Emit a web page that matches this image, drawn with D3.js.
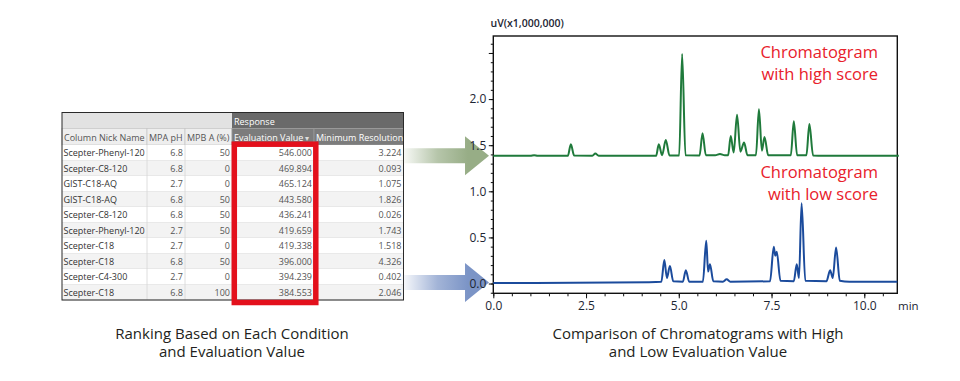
<!DOCTYPE html>
<html><head><meta charset="utf-8">
<script src="https://cdn.jsdelivr.net/npm/d3@7"></script>
<style>body{margin:0;background:#fff;} svg{display:block;font-family:"Open Sans",sans-serif;}</style>
</head><body><svg id="c" width="960" height="381"></svg>
<script>
// ---------------- DATA ----------------
const headerNames = ["Column Nick Name", "MPA pH", "MPB A (%)", "Evaluation Value", "Minimum Resolution"];
const groupHeader = "Response";
const columnNickNames = ["Scepter-Phenyl-120","Scepter-C8-120","GIST-C18-AQ","GIST-C18-AQ","Scepter-C8-120","Scepter-Phenyl-120","Scepter-C18","Scepter-C18","Scepter-C4-300","Scepter-C18"];
const mpaPH = ["6.8","6.8","2.7","6.8","6.8","2.7","2.7","6.8","2.7","6.8"];
const mpbA = ["50","0","0","50","50","50","0","50","0","100"];
const evaluationValues = ["546.000","469.894","465.124","443.580","436.241","419.659","419.338","396.000","394.239","384.553"];
const minResolutions = ["3.224","0.093","1.075","1.826","0.026","1.743","1.518","4.326","0.402","2.046"];

// chromatograms: [retention time (min), signal (uV x1,000,000)]
const highScoreTrace = [
  [0,1.385],[1.0,1.385],[1.1,1.392],[1.2,1.385],
  [2.01,1.385],[2.09,1.51],[2.18,1.387],
  [2.67,1.386],[2.75,1.41],[2.84,1.386],
  [4.39,1.386],[4.46,1.51],[4.55,1.392],[4.65,1.556],[4.75,1.388],
  [5.01,1.388],[5.09,2.49],[5.18,1.39],
  [5.56,1.389],[5.64,1.63],[5.73,1.39],
  [5.98,1.39],[6.11,1.405],[6.24,1.39],
  [6.33,1.392],[6.40,1.60],[6.48,1.42],[6.57,1.83],[6.66,1.43],[6.76,1.53],[6.85,1.392],
  [7.08,1.392],[7.16,1.89],[7.24,1.44],[7.31,1.59],[7.41,1.39],
  [8.02,1.39],[8.10,1.76],[8.19,1.39],
  [8.44,1.39],[8.52,1.73],[8.62,1.388],
  [8.9,1.386],[10.93,1.386]
];
const lowScoreTrace = [
  [0,0.005],[4.2,0.015],[4.53,0.02],[4.61,0.255],[4.68,0.06],[4.76,0.19],[4.85,0.025],
  [5.11,0.02],[5.19,0.145],[5.28,0.02],
  [5.65,0.02],[5.74,0.465],[5.79,0.13],[5.84,0.21],[5.93,0.025],
  [6.19,0.02],[6.29,0.045],[6.39,0.02],
  [7.46,0.025],[7.56,0.40],[7.60,0.30],[7.64,0.345],[7.74,0.03],
  [8.10,0.025],[8.18,0.21],[8.24,0.06],[8.31,0.87],[8.41,0.03],
  [8.98,0.025],[9.08,0.145],[9.15,0.06],[9.24,0.39],[9.34,0.03],
  [9.6,0.02],[10.89,0.02]
];
const xTickValues = [0, 2.5, 5, 7.5, 10];
const xTickLabels = ["0.0","2.5","5.0","7.5","10.0"];
const yTickValues = [0, 0.5, 1.0, 1.5, 2.0];
const yTickLabels = ["0.0","0.5","1.0","1.5","2.0"];
const yAxisTitle = "uV(x1,000,000)";
const xAxisUnit = "min";
const highLabel = ["Chromatogram", "with high score"];
const lowLabel = ["Chromatogram", "with low score"];
const leftCaption = ["Ranking Based on Each Condition", "and Evaluation Value"];
const rightCaption = ["Comparison of Chromatograms with High", "and Low Evaluation Value"];

// ---------------- DRAW ----------------
const svg = d3.select("#c");
const defs = svg.append("defs");

// ===== TABLE =====
const colEdges = [62, 147, 185, 232, 314, 403.5];
const headTop = 112.5, headMid = 128.5, headBot = 145, tblBot = 300;
const rowY = d3.scaleBand().domain(d3.range(columnNickNames.length)).range([headBot, tblBot]);
const tbl = svg.append("g").attr("font-size", 9);

// header row 1
tbl.append("rect").attr("x", colEdges[0]).attr("y", headTop).attr("width", colEdges[3]-colEdges[0]).attr("height", headMid-headTop).attr("fill", "#e2e2e2");
tbl.append("rect").attr("x", colEdges[3]).attr("y", headTop).attr("width", colEdges[5]-colEdges[3]).attr("height", headMid-headTop).attr("fill", "#6a6a6a");
tbl.append("text").attr("x", colEdges[3]+2).attr("y", headMid-4).attr("fill", "#fff").text(groupHeader);
// header row 2
headerNames.forEach((h, i) => {
  const dark = i >= 3;
  tbl.append("rect").attr("x", colEdges[i]).attr("y", headMid).attr("width", colEdges[i+1]-colEdges[i]).attr("height", headBot-headMid)
    .attr("fill", dark ? "#7c7c7c" : "#eeeeee").attr("stroke", dark ? "#9a9a9a" : "#c8c8c8").attr("stroke-width", 0.8);
  tbl.append("text").attr("x", colEdges[i]+2).attr("y", headBot-4.5).attr("fill", dark ? "#fff" : "#555").text(h);
});
tbl.append("text").attr("x", colEdges[4]-9).attr("y", headBot-4.5).attr("fill", "#ddd").attr("font-size", 8).text("▾");

// data rows
const rows = tbl.selectAll("g.row").data(columnNickNames.map((n, i) => ({
  cells: [n, mpaPH[i], mpbA[i], evaluationValues[i], minResolutions[i]], i
}))).join("g").attr("class", "row");
rows.append("rect").attr("x", colEdges[0]).attr("y", d => rowY(d.i)).attr("width", colEdges[5]-colEdges[0]).attr("height", rowY.bandwidth())
  .attr("fill", d => d.i % 2 ? "#f3f3f3" : "#ffffff");
rows.append("line").attr("x1", colEdges[0]).attr("x2", colEdges[5]).attr("y1", d => rowY(d.i)+rowY.bandwidth()).attr("y2", d => rowY(d.i)+rowY.bandwidth())
  .attr("stroke", "#d6d6d6").attr("stroke-width", 0.8);
rows.each(function(d) {
  const g = d3.select(this);
  d.cells.forEach((c, j) => {
    const left = j === 0;
    g.append("text")
      .attr("x", left ? colEdges[j]+1.5 : colEdges[j+1]-2)
      .attr("y", rowY(d.i) + rowY.bandwidth()/2 + 3.3)
      .attr("text-anchor", left ? "start" : "end")
      .attr("fill", left ? "#333" : "#555")
      .text(c);
  });
});
// column separators in body
colEdges.slice(1, 5).forEach(x => {
  tbl.append("line").attr("x1", x).attr("x2", x).attr("y1", headBot).attr("y2", tblBot).attr("stroke", "#d6d6d6").attr("stroke-width", 0.8);
});
// outer border
tbl.append("rect").attr("x", colEdges[0]).attr("y", headTop).attr("width", colEdges[5]-colEdges[0]).attr("height", tblBot-headTop)
  .attr("fill", "none").attr("stroke", "#2a2a2a").attr("stroke-width", 1);

// red highlight around Evaluation Value column
tbl.append("rect").attr("x", 234.3).attr("y", 144.2).attr("width", 81.5).attr("height", 158.3)
  .attr("fill", "none").attr("stroke", "#e3101c").attr("stroke-width", 5.5);

// ===== CHROMATOGRAM SCALES =====
const x = d3.scaleLinear().domain([0, 10.89]).range([493.3, 897.3]);
const y = d3.scaleLinear().domain([-0.106, 2.684]).range([293.3, 36]);

// ===== ARROWS (behind axis labels) =====
function arrow(id, color, yc) {
  const gr = defs.append("linearGradient").attr("id", id).attr("gradientUnits", "userSpaceOnUse")
    .attr("x1", 400).attr("x2", 468).attr("y1", 0).attr("y2", 0);
  gr.append("stop").attr("offset", 0).attr("stop-color", color).attr("stop-opacity", 0);
  gr.append("stop").attr("offset", 0.55).attr("stop-color", color).attr("stop-opacity", 0.7);
  gr.append("stop").attr("offset", 1).attr("stop-color", color).attr("stop-opacity", 1);
  const p = d3.path();
  p.moveTo(400, yc-7.5); p.lineTo(465, yc-7.5); p.lineTo(465, yc-19.5); p.lineTo(489, yc);
  p.lineTo(465, yc+19.5); p.lineTo(465, yc+7.5); p.lineTo(400, yc+7.5); p.closePath();
  svg.append("path").attr("d", p.toString()).attr("fill", `url(#${id})`);
}
arrow("ga", "#97ad86", y(highScoreTrace[0][1]));
arrow("ba", "#7b94c6", y(lowScoreTrace[0][1]) - 0.5);

// ===== AXES =====
const axisColor = "#111";
const tickTextColor = "#1d2633";
const yMinor = svg.append("g").attr("transform", `translate(${x(0)},0)`)
  .call(d3.axisLeft(y).tickValues(d3.range(-1, 27).map(i => i/10)).tickSize(2.5).tickFormat(""));
const yMajor = svg.append("g").attr("transform", `translate(${x(0)},0)`)
  .call(d3.axisLeft(y).tickValues([0, 0.5, 1, 1.5, 2, 2.5]).tickSize(4.5).tickPadding(2.5)
    .tickFormat(v => { const k = yTickValues.indexOf(v); return k >= 0 ? yTickLabels[k] : ""; }));
const xMinor = svg.append("g").attr("transform", `translate(0,${y.range()[0]})`)
  .call(d3.axisBottom(x).tickValues(d3.range(0, 22).map(i => i/2)).tickSize(3).tickFormat(""));
const xMajor = svg.append("g").attr("transform", `translate(0,${y.range()[0]})`)
  .call(d3.axisBottom(x).tickValues(xTickValues).tickSize(5).tickPadding(3.5)
    .tickFormat((v, i) => xTickLabels[i]));
[yMinor, yMajor, xMinor, xMajor].forEach(g => {
  g.select(".domain").remove();
  g.selectAll(".tick line").attr("stroke", axisColor).attr("stroke-width", 1);
  g.selectAll(".tick text").attr("fill", tickTextColor).attr("font-size", 12).attr("font-family", "Open Sans, sans-serif");
});
// frame
svg.append("rect").attr("x", x(0)).attr("y", y.range()[1]).attr("width", x.range()[1]-x(0)).attr("height", y.range()[0]-y.range()[1])
  .attr("fill", "none").attr("stroke", axisColor).attr("stroke-width", 1.4);

svg.append("text").attr("x", 490.5).attr("y", 26.5).attr("font-size", 10.5).attr("font-weight", 600).attr("fill", "#1d2633").text(yAxisTitle);
svg.append("text").attr("x", 898).attr("y", 310).attr("font-size", 11.5).attr("fill", tickTextColor).text(xAxisUnit);

const line = d3.line().x(d => x(d[0])).y(d => y(d[1])).curve(d3.curveMonotoneX);
svg.append("path").datum(highScoreTrace).attr("d", line).attr("fill", "none").attr("stroke", "#1f7a3b").attr("stroke-width", 2).attr("stroke-linejoin", "round");
svg.append("path").datum(lowScoreTrace).attr("d", line).attr("fill", "none").attr("stroke", "#1b4b9c").attr("stroke-width", 2).attr("stroke-linejoin", "round");

// red annotations
const red = "#e8212b";
function redLabel(lines, yb) {
  svg.append("text").attr("text-anchor", "end").attr("font-size", 16.5).attr("fill", red)
    .selectAll("tspan").data(lines).join("tspan").attr("x", 878).attr("y", (d, i) => yb + i*22).text(d => d);
}
redLabel(highLabel, 58);
redLabel(lowLabel, 178);

// ===== CAPTIONS =====
function caption(lines, cx) {
  svg.append("text").attr("text-anchor", "middle").attr("font-size", 15).attr("fill", "#231f20")
    .selectAll("tspan").data(lines).join("tspan").attr("x", cx).attr("y", (d, i) => 338.5 + i*18.5).text(d => d);
}
caption(leftCaption, 232);
caption(rightCaption, 698);
</script></body></html>
